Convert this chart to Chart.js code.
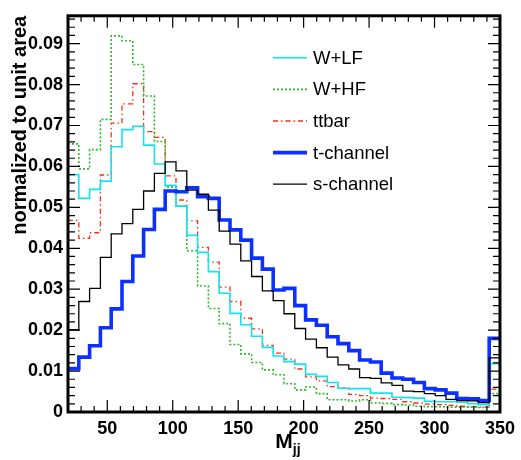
<!DOCTYPE html>
<html>
<head>
<meta charset="utf-8">
<script src="https://cdn.jsdelivr.net/npm/chart.js@4.4.0/dist/chart.umd.min.js"></script>
<style>
  html, body { margin: 0; padding: 0; background: #fff; }
  canvas { display: block; }
</style>
</head>
<body>
<canvas id="mjjChart" width="521" height="460"></canvas>
<script>
// Binning of the histograms : 40 bins between 20 and 350 (the last bin holds the overflow)
const binLow = 20;
const binWidth = 8.25;
const binEdges = Array.from({ length: 41 }, (_, i) => binLow + i * binWidth);

// Bin contents (normalized to unit area)
const wlf = [0.0580, 0.0522, 0.0544, 0.0564, 0.0648, 0.0690, 0.0698, 0.0652, 0.0606, 0.0554,
             0.0503, 0.0432, 0.0390, 0.0343, 0.0290, 0.0241, 0.0213, 0.0185, 0.0158, 0.0137,
             0.0123, 0.0117, 0.0092, 0.0087, 0.0072, 0.0058, 0.0057, 0.0057, 0.0046, 0.0046,
             0.0036, 0.0035, 0.0034, 0.0026, 0.0025, 0.0025, 0.0024, 0.0020, 0.0018, 0.0118];
const whf = [0.0655, 0.0594, 0.0641, 0.0715, 0.0919, 0.0907, 0.0849, 0.0772, 0.0661, 0.0550,
             0.0503, 0.0394, 0.0308, 0.0253, 0.0216, 0.0165, 0.0142, 0.0121, 0.0103, 0.0091,
             0.0069, 0.0054, 0.0061, 0.0045, 0.0030, 0.0030, 0.0027, 0.0030, 0.0022, 0.0021,
             0.0018, 0.0017, 0.0014, 0.0013, 0.0013, 0.0012, 0.0012, 0.0012, 0.0011, 0.0045];
const ttbar = [0.0468, 0.0424, 0.0438, 0.0579, 0.0706, 0.0753, 0.0802, 0.0685, 0.0671, 0.0577,
               0.0518, 0.0467, 0.0402, 0.0366, 0.0305, 0.0270, 0.0229, 0.0203, 0.0163, 0.0144,
               0.0129, 0.0105, 0.0086, 0.0076, 0.0062, 0.0058, 0.0043, 0.0040, 0.0034, 0.0033,
               0.0031, 0.0025, 0.0022, 0.0019, 0.0018, 0.0016, 0.0014, 0.0013, 0.0012, 0.0056];
const tchan = [0.0106, 0.0134, 0.0162, 0.0206, 0.0252, 0.0319, 0.0381, 0.0446, 0.0495, 0.0540,
               0.0538, 0.0548, 0.0526, 0.0522, 0.0469, 0.0445, 0.0420, 0.0376, 0.0349, 0.0298,
               0.0302, 0.0260, 0.0225, 0.0212, 0.0184, 0.0167, 0.0150, 0.0127, 0.0122, 0.0095,
               0.0083, 0.0080, 0.0072, 0.0057, 0.0054, 0.0046, 0.0033, 0.0032, 0.0028, 0.0180];
const schan = [0.0201, 0.0270, 0.0302, 0.0378, 0.0435, 0.0460, 0.0495, 0.0540, 0.0583, 0.0611,
               0.0589, 0.0542, 0.0532, 0.0493, 0.0442, 0.0410, 0.0369, 0.0331, 0.0296, 0.0272,
               0.0240, 0.0204, 0.0178, 0.0157, 0.0134, 0.0115, 0.0105, 0.0084, 0.0082, 0.0071,
               0.0065, 0.0051, 0.0050, 0.0045, 0.0040, 0.0031, 0.0028, 0.0027, 0.0023, 0.0132];

// Axis labels
const xTicks = [50, 100, 150, 200, 250, 300, 350];
const yTicks = [0, 0.01, 0.02, 0.03, 0.04, 0.05, 0.06, 0.07, 0.08, 0.09];

const fontFamily = "'Liberation Sans', Arial, Helvetica, sans-serif";

// Je transforme les contenus de bins en points pour une ligne en escalier
function toSteps(values) {
  const pts = values.map((v, i) => ({ x: binEdges[i], y: v }));
  pts.push({ x: binEdges[values.length], y: values[values.length - 1] });
  return pts;
}

// Petits traits de graduation à l'intérieur du cadre + cadre épais (style ROOT)
const frameTicks = {
  id: 'frameTicks',
  afterDatasetsDraw(chart) {
    const { ctx, chartArea: a, scales: { x, y } } = chart;
    ctx.save();
    ctx.strokeStyle = '#000';
    ctx.lineWidth = 1.2;
    ctx.beginPath();
    for (let v = 30; v < x.max; v += 10) {
      const px = x.getPixelForValue(v);
      const len = v % 50 === 0 ? 12 : 6;
      ctx.moveTo(px, a.bottom); ctx.lineTo(px, a.bottom - len);
      ctx.moveTo(px, a.top); ctx.lineTo(px, a.top + len);
    }
    for (let k = 1; k * 0.002 < y.max; k++) {
      const py = y.getPixelForValue(k * 0.002);
      const len = k % 5 === 0 ? 12 : 7;
      ctx.moveTo(a.left, py); ctx.lineTo(a.left + len, py);
      ctx.moveTo(a.right, py); ctx.lineTo(a.right - len, py);
    }
    ctx.stroke();
    ctx.lineWidth = 3;
    ctx.strokeRect(a.left, a.top, a.right - a.left, a.bottom - a.top);
    ctx.restore();
  }
};

// Titre de l'axe X avec indice : M_jj
const xTitle = {
  id: 'xTitle',
  afterDraw(chart) {
    const { ctx, chartArea: a } = chart;
    const cx = (a.left + a.right) / 2;
    ctx.save();
    ctx.fillStyle = '#000';
    ctx.textBaseline = 'alphabetic';
    ctx.font = 'bold 21px ' + fontFamily;
    const wM = ctx.measureText('M').width;
    ctx.fillText('M', cx - wM / 2, a.bottom + 36);
    ctx.font = 'bold 14px ' + fontFamily;
    ctx.fillText('jj', cx + wM / 2, a.bottom + 42);
    ctx.restore();
  }
};

// Légende sans cadre, dans la zone du graphe
const boxLegend = {
  id: 'boxLegend',
  afterDraw(chart) {
    const { ctx, chartArea: a } = chart;
    const x0 = a.left + 205, y0 = a.top + 42, step = 31.6;
    ctx.save();
    ctx.font = '18.5px ' + fontFamily;
    ctx.textBaseline = 'middle';
    chart.data.datasets.forEach((ds, i) => {
      const yy = y0 + i * step;
      ctx.strokeStyle = ds.borderColor;
      ctx.lineWidth = ds.borderWidth;
      ctx.setLineDash(ds.borderDash || []);
      ctx.beginPath();
      ctx.moveTo(x0, yy);
      ctx.lineTo(x0 + 34, yy);
      ctx.stroke();
      ctx.setLineDash([]);
      ctx.fillStyle = '#000';
      ctx.fillText(ds.label, x0 + 40, yy + 1);
    });
    ctx.restore();
  }
};

const ctx = document.getElementById('mjjChart').getContext('2d');
const myChart = new Chart(ctx, {
  type: 'line',
  data: {
    datasets: [
      { label: 'W+LF', data: toSteps(wlf), borderColor: '#12e4ee', borderWidth: 1.6, order: 3 },
      { label: 'W+HF', data: toSteps(whf), borderColor: '#2db82d', borderWidth: 1.6, borderDash: [2, 2], order: 4 },
      { label: 'ttbar', data: toSteps(ttbar), borderColor: '#ff2a10', borderWidth: 1.3, borderDash: [5, 3, 1.5, 3], order: 5 },
      { label: 't-channel', data: toSteps(tchan), borderColor: '#0b30ff', borderWidth: 3.6, order: 2 },
      { label: 's-channel', data: toSteps(schan), borderColor: '#000000', borderWidth: 1.3, order: 1 }
    ].map(ds => Object.assign(ds, { stepped: true, pointRadius: 0, fill: false }))
  },
  options: {
    responsive: false,
    animation: false,
    layout: { padding: { left: 0, top: 15, right: 19, bottom: 0 } },
    plugins: {
      legend: { display: false },
      tooltip: { enabled: false }
    },
    scales: {
      x: {
        type: 'linear',
        min: 20,
        max: 350,
        grid: { display: false, drawTicks: false },
        border: { display: false },
        afterBuildTicks: axis => { axis.ticks = xTicks.map(v => ({ value: v })); },
        afterFit: axis => { axis.height = 48; },
        ticks: {
          autoSkip: false,
          maxRotation: 0,
          padding: 6,
          color: '#000',
          font: { family: fontFamily, size: 18, weight: 'bold' },
          callback: v => String(v)
        }
      },
      y: {
        min: 0,
        max: 0.0968,
        grid: { display: false, drawTicks: false },
        border: { display: false },
        afterBuildTicks: axis => { axis.ticks = yTicks.map(v => ({ value: v })); },
        afterFit: axis => { axis.width = 68; },
        ticks: {
          padding: 5,
          color: '#000',
          font: { family: fontFamily, size: 18, weight: 'bold' },
          callback: v => (v === 0 ? '0' : v.toFixed(2))
        },
        title: {
          display: true,
          text: 'normalized to unit area',
          align: 'end',
          color: '#000',
          padding: { top: 8 },
          font: { family: fontFamily, size: 20, weight: 'bold' }
        }
      }
    }
  },
  plugins: [frameTicks, xTitle, boxLegend]
});
</script>
</body>
</html>
